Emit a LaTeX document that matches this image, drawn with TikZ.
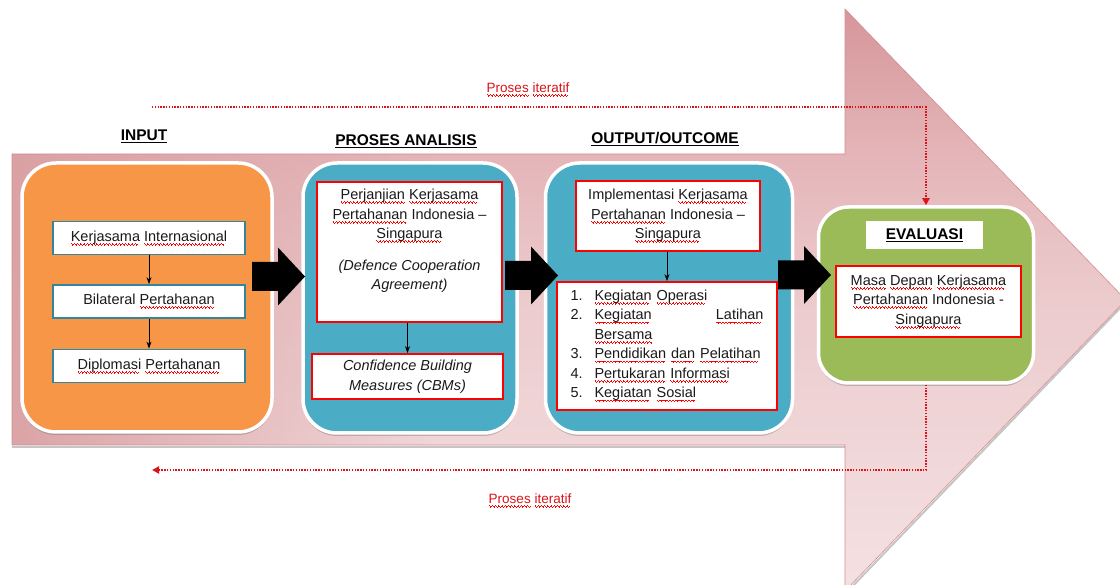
\documentclass[tikz,border=0pt]{standalone}
\usepackage{fontspec}
\setmainfont{Liberation Sans}
\usetikzlibrary{arrows.meta,shadows,calc,fadings}
\definecolor{orangec}{HTML}{F79646}
\definecolor{bluec}{HTML}{4BACC6}
\definecolor{greenc}{HTML}{9BBB59}
\definecolor{tealc}{HTML}{31859C}
\definecolor{txtc}{HTML}{1A1A1A}
\definecolor{dotred}{HTML}{D9141B}
\definecolor{sqred}{HTML}{FF0000}
\definecolor{shL}{HTML}{D99FA2}
\definecolor{arrline}{HTML}{D38D91}
\definecolor{g1}{HTML}{F5E1E2}
\definecolor{g2}{HTML}{F0D6D8}
\definecolor{g3}{HTML}{ECCBCD}
\definecolor{g4}{HTML}{E4B5B8}
\definecolor{g5}{HTML}{D6969A}
\pgfdeclareverticalshading{arrsh}{100bp}{color(0bp)=(g1); color(25bp)=(g1); color(37.5bp)=(g2); color(50bp)=(g3); color(62.5bp)=(g4); color(75bp)=(g5); color(100bp)=(g5)}
\newsavebox\sqbox
\newcommand\sqdot[1]{\lower#1\hbox{\vrule width 0.8pt height 0.8pt depth 0pt}}
\newcommand\sqw[1]{\leavevmode\sbox\sqbox{#1}%
  \hbox to 0pt{\color{sqred}\leaders\hbox{\sqdot{2.4pt}\sqdot{3.3pt}\sqdot{4.2pt}\sqdot{3.3pt}}\hskip\wd\sqbox\hss}%
  \usebox\sqbox}
\tikzset{
  blockarr/.pic={\fill[black] (-26,-14.5) -- (0,-14.5) -- (0,-29) -- (27,0) -- (0,29) -- (0,14.5) -- (-26,14.5) -- cycle;}
}
\begin{document}
\begin{tikzpicture}[x=1pt,y=-1pt,
  txt/.style={font=\fontsize{14.5}{19.5}\selectfont, text=txtc},
  bigbox/.style={draw=white, line width=3.5pt, rounded corners=34pt,
    drop shadow={shadow xshift=0pt, shadow yshift=-3pt, opacity=0.35, fill=black!60}},
  inbox/.style={draw=tealc, line width=1.8pt, fill=white, minimum width=192pt, minimum height=33pt, inner sep=0pt, txt},
  redbox/.style={draw=sqred, line width=1.8pt, fill=white, inner sep=0pt, txt, align=center},
  hdr/.style={font=\fontsize{15.5}{18}\selectfont\bfseries, text=black},
  smallarr/.style={-{Stealth[length=7pt,width=5pt]}, line width=0.8pt, draw=black},
  dotl/.style={draw=dotred, line width=1.8pt, dash pattern=on 1.4pt off 1.4pt},
  itlab/.style={font=\fontsize{13.5}{16}\selectfont, text=dotred}
]
\useasboundingbox (0,0) rectangle (1120,585);
\clip (0,0) rectangle (1120,585);

% big background arrow
\draw[black!45, line width=2pt, opacity=0.5] (12,446.5) -- (845,446.5);
\draw[black!45, line width=2pt, opacity=0.5] (1126,302) -- (846,593);
\shade[shading=arrsh] (845,154) -- (12,154) -- (12,445) -- (845,445) -- (845,591) -- (1126,300) -- (845,9) -- cycle;
\fill[shL, path fading=east, opacity=0.9] (12,154) rectangle (430,445);
\draw[arrline, line width=0.6pt] (845,154) -- (12,154) -- (12,445) -- (845,445) -- (845,591) -- (1126,300) -- (845,9) -- cycle;

% main boxes
\node[bigbox, fill=orangec, minimum width=250pt, minimum height=269pt] (inp) at (147,297.5) {};
\node[bigbox, fill=bluec, minimum width=214pt, minimum height=270pt] (pro) at (410,298) {};
\node[bigbox, fill=bluec, minimum width=247pt, minimum height=270pt] (out) at (669,298) {};
\node[bigbox, fill=greenc, minimum width=215pt, minimum height=176pt, rounded corners=30pt] (eva) at (926,295) {};

% headers
\node[hdr] (hin) at (144,136) {\underline{INPUT}};
\node[hdr] (hpro) at (406,141) {\underline{PROSES ANALISIS}};
\node[hdr] (hout) at (665,139) {\underline{OUTPUT/OUTCOME}};

% input column
\node[inbox] (k1) at (149,238) {\sqw{Kerjasama} \sqw{Internasional}};
\node[inbox] (k2) at (149,301.5) {Bilateral \sqw{Pertahanan}};
\node[inbox] (k3) at (149,366) {\sqw{Diplomasi} \sqw{Pertahanan}};
\draw[smallarr] (k1) -- (k2);
\draw[smallarr] (k2) -- (k3);

% proses analisis column
\node[redbox, minimum width=185pt, minimum height=140pt] (pa) at (409.5,252) {};
\node[txt, align=center, inner sep=0pt] (pat) at (409.5,241) {\sqw{Perjanjian} \sqw{Kerjasama}\\ \sqw{Pertahanan} Indonesia –\\ \sqw{Singapura}\\[12pt] \textit{(Defence Cooperation}\\ \textit{Agreement)}};
\node[redbox, minimum width=191pt, minimum height=45pt] (cbm) at (407.5,376.5) {\textit{Confidence Building}\\ \textit{Measures (CBMs)}};
\draw[smallarr] (pa.south -| cbm.north) -- (cbm.north);

% output column
\node[redbox, minimum width=184pt, minimum height=70pt] (imp) at (668,216) {Implementasi \sqw{Kerjasama}\\ \sqw{Pertahanan} Indonesia –\\ \sqw{Singapura}};
\node[redbox, minimum width=220pt, minimum height=128pt, text width=193pt, align=left] (lst) at (667,346) {%
\makebox[24pt][l]{1.}\sqw{Kegiatan} \sqw{Operasi}\\
\makebox[24pt][l]{2.}\sqw{Kegiatan}\hskip0pt plus1fill\sqw{Latihan}\\
\makebox[24pt][l]{}\sqw{Bersama}\\
\makebox[24pt][l]{3.}\sqw{Pendidikan} \sqw{dan} \sqw{Pelatihan}\\
\makebox[24pt][l]{4.}\sqw{Pertukaran} \sqw{Informasi}\\
\makebox[24pt][l]{5.}\sqw{Kegiatan} \sqw{Sosial}};
\draw[smallarr] (imp.south -| lst.north) -- (lst.north);

% evaluasi
\node[fill=white, minimum width=117pt, minimum height=28pt, hdr] (evt) at (924.5,235) {\underline{EVALUASI}};
\node[redbox, minimum width=185pt, minimum height=71pt] (mas) at (928.5,301.5) {\sqw{Masa} \sqw{Depan} \sqw{Kerjasama}\\ \sqw{Pertahanan} Indonesia -\\ \sqw{Singapura}};

% block arrows
\pic (ba1) at (278,276.5) {blockarr};
\pic (ba2) at (531,275.5) {blockarr};
\pic (ba3) at (804,275) {blockarr};

% iterative loop
\coordinate (ts) at (152,107);
\coordinate (bs) at (152,470);
\draw[dotl, -{Triangle[length=7pt,width=7pt]}] (ts) -| (eva.north);
\draw[dotl, -{Triangle[length=7pt,width=7pt]}] (eva.south) |- (bs);
\node[itlab] (pt) at (528,90) {\sqw{Proses} \sqw{iteratif}};
\node[itlab] (pb) at (530,501) {\sqw{Proses} \sqw{iteratif}};
\end{tikzpicture}
\end{document}
